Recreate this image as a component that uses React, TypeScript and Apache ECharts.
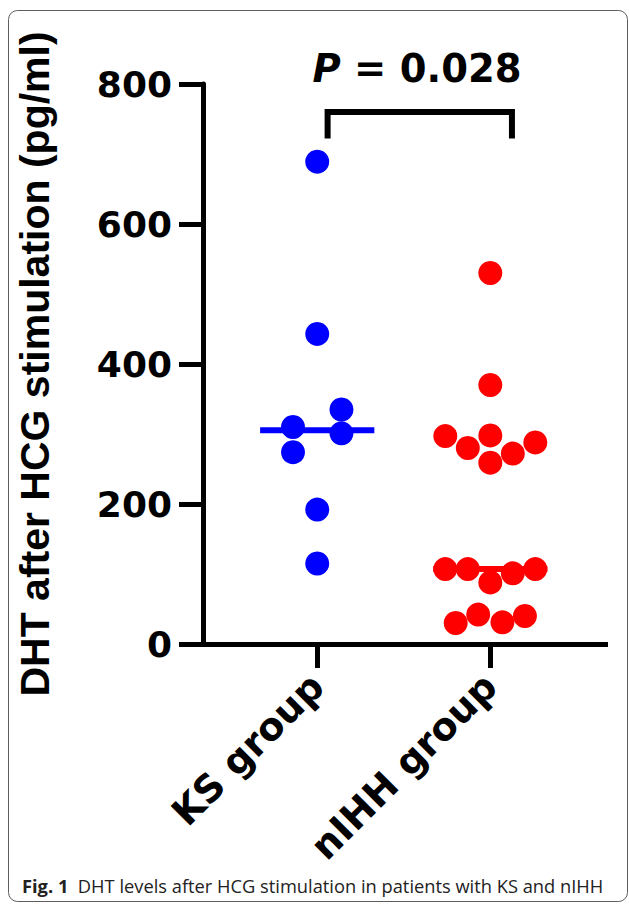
import React, { useEffect, useRef } from "react";
import * as echarts from "echarts";

const categories = ["KS group", "nIHH group"];
const ksValues = [689, 443, 335, 310, 301, 274, 192, 115];
const ksJitter = [0, 0, 0.14, -0.14, 0.14, -0.14, 0, 0];
const nihhValues = [530, 370, 297, 298, 280, 288, 272, 259, 107, 107, 101, 107, 88, 30, 42, 31, 40];
const nihhJitter = [0, 0, -0.26, 0, -0.13, 0.26, 0.13, 0, -0.26, -0.13, 0.13, 0.26, 0, -0.2, -0.07, 0.07, 0.2];
const yTicks = [0, 200, 400, 600, 800];
const bracketX = [1.06, 1.06, 2.125, 2.125];
const bracketY = [722, 760, 760, 722];
const pLabel = "0.028";
const yTitle = "DHT after HCG stimulation (pg/ml)";
const captionBold = "Fig. 1";
const captionText = "DHT levels after HCG stimulation in patients with KS and nIHH";

function median(arr: number[]) {
  const s = [...arr].sort((a, b) => a - b);
  const m = Math.floor(s.length / 2);
  return s.length % 2 ? s[m] : (s[m - 1] + s[m]) / 2;
}

export default function App() {
  const ref = useRef<HTMLDivElement>(null);
  useEffect(() => {
    if (!ref.current) return;
    const chart = echarts.init(ref.current, null, { renderer: "svg" });
    const ksMed = median(ksValues);
    const nMed = median(nihhValues);
    const numFont = { fontFamily: "DejaVu Sans", fontWeight: "bold" as const, color: "#000" };
    chart.setOption({
      animation: false,
      backgroundColor: "#fff",
      grid: { left: 203, right: 21, top: 84, bottom: 260, containLabel: false, outerBoundsMode: "none" },
      xAxis: {
        type: "value",
        min: 0.34,
        max: 2.68,
        splitLine: { show: false },
        axisLine: { show: true, lineStyle: { color: "#000", width: 5, cap: "butt" } },
        axisTick: { show: true, customValues: [1, 2], length: 24, lineStyle: { color: "#000", width: 5 } },
        axisLabel: {
          show: true,
          customValues: [1, 2],
          rotate: 45,
          margin: 36,
          fontSize: 38,
          ...numFont,
          formatter: (v: number) => categories[Math.round(v) - 1] || "",
        },
      },
      yAxis: {
        type: "value",
        min: yTicks[0],
        max: yTicks[yTicks.length - 1],
        interval: 200,
        splitLine: { show: false },
        axisLine: { show: true, lineStyle: { color: "#000", width: 5 } },
        axisTick: { show: true, length: 24, lineStyle: { color: "#000", width: 5 } },
        axisLabel: { margin: 31, fontSize: 36, ...numFont },
        name: yTitle,
        nameLocation: "middle",
        nameRotate: 90,
        nameGap: 148,
        nameTextStyle: { fontFamily: "Liberation Sans", fontWeight: "bold", fontSize: 41, color: "#000" },
      },
      series: [
        {
          type: "line",
          data: [[1 - 0.33, ksMed], [1 + 0.33, ksMed]],
          symbol: "none",
          lineStyle: { color: "#0000ff", width: 6 },
          z: 1,
        },
        {
          type: "line",
          data: [[2 - 0.33, nMed], [2 + 0.33, nMed]],
          symbol: "none",
          lineStyle: { color: "#ff0000", width: 6 },
          z: 1,
        },
        {
          type: "scatter",
          data: ksValues.map((v, i) => [1 + ksJitter[i], v]),
          symbol: "circle",
          symbolSize: 24,
          itemStyle: { color: "#0000ff", opacity: 1 },
          z: 2,
        },
        {
          type: "scatter",
          data: nihhValues.map((v, i) => [2 + nihhJitter[i], v]),
          symbol: "circle",
          symbolSize: 24,
          itemStyle: { color: "#ff0000", opacity: 1 },
          z: 2,
        },
        {
          type: "line",
          data: bracketX.map((x, i) => [x, bracketY[i]]),
          symbol: "none",
          lineStyle: { color: "#000", width: 6, join: "miter", cap: "butt" },
          z: 3,
        },
      ],
      graphic: [
        {
          type: "rect",
          shape: { x: 8.5, y: 10.5, width: 619, height: 891, r: 9 },
          style: { fill: "none", stroke: "#5e5e5e", lineWidth: 1 },
          z: -1,
        },
        {
          type: "text",
          x: 417,
          y: 68,
          style: {
            text: "{i|P}{n| = " + pLabel + "}",
            textAlign: "center",
            textVerticalAlign: "middle",
            fontFamily: "DejaVu Sans",
            fontWeight: "bold",
            fontSize: 38.5,
            fill: "#000",
            rich: {
              i: { fontFamily: "DejaVu Sans", fontWeight: "bold", fontStyle: "italic", fontSize: 38.5, fill: "#000" },
              n: { fontFamily: "DejaVu Sans", fontWeight: "bold", fontSize: 38.5, fill: "#000" },
            },
          },
        },
        {
          type: "text",
          x: 22,
          y: 885,
          style: {
            text: "{b|" + captionBold + "}{r|  " + captionText + "}",
            textAlign: "left",
            textVerticalAlign: "middle",
            fontFamily: "Open Sans",
            fontSize: 18.3,
            fill: "#222",
            rich: {
              b: { fontFamily: "Open Sans", fontWeight: "bold", fontSize: 18.3, fill: "#222" },
              r: { fontFamily: "Open Sans", fontSize: 18.3, fill: "#222" },
            },
          },
        },
      ],
    });
    return () => chart.dispose();
  }, []);
  return (
    <div
      ref={ref}
      style={{ position: "fixed", left: 0, top: 0, width: 629, height: 904, background: "#fff" }}
    />
  );
}
